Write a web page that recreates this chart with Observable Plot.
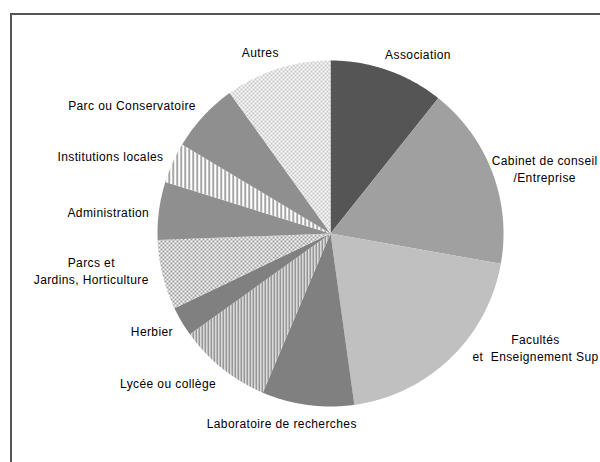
<!DOCTYPE html>
<html><head><meta charset="utf-8">
<script src="https://cdn.jsdelivr.net/npm/d3@7"></script>
<script src="https://cdn.jsdelivr.net/npm/@observablehq/plot@0.6"></script>
<style>
html,body{margin:0;padding:0;background:#fff;overflow:hidden;}
#chart{position:absolute;left:0;top:0;width:600px;height:462px;overflow:hidden;}
#chart text{white-space:pre;}
</style></head><body>
<div id="chart"></div>
<script>
// ---- data (% of respondents) ----
const categories = [
  "Association",
  "Cabinet de conseil\n/Entreprise",
  "Facultés\net  Enseignement Sup",
  "Laboratoire de recherches",
  "Lycée ou collège",
  "Herbier",
  "Parcs et\nJardins, Horticulture",
  "Administration",
  "Institutions locales",
  "Parc ou Conservatoire",
  "Autres"
];
const values = [10.7, 17.1, 20.0, 8.6, 8.7, 2.8, 6.5, 5.4, 3.8, 6.5, 9.9];

// ---- styles / layout (not data) ----
const fills = ["#555555", "#a0a0a0", "#c0c0c0", "#808080", "url(#p-lycee)", "#808080",
               "url(#p-parcs)", "#8f8f8f", "url(#p-inst)", "#8f8f8f", "url(#p-autres)"];
// manual label nudges in px (labels that were dragged in the original)
const labelNudge = [[0,0],[-10,5],[15,-30],[0,0],[0,0],[0,0],[-4,-11],[0,3],[0,0],[0,0],[0,0]];
const FONT = "'Liberation Sans', Arial, sans-serif";
const FS = 12, LH = 17, LS = 0.4;
const cx = 330, cy = 233, R = 173;

// ---- geometry derived from the values ----
const total = d3.sum(values);
let acc = 0;
const slices = values.map((v, i) => {
  const a0 = acc / total * 2 * Math.PI;
  acc += v;
  const a1 = acc / total * 2 * Math.PI;
  const n = Math.max(2, Math.ceil((a1 - a0) / (Math.PI / 360)));
  const pts = [{x: 0, y: 0}];
  for (let k = 0; k <= n; k++) {
    const a = a0 + (a1 - a0) * k / n;
    pts.push({x: Math.sin(a), y: Math.cos(a)});
  }
  pts.push({x: 0, y: 0});
  return {i, a0, a1, mid: (a0 + a1) / 2, pts};
});

const ctx = document.createElement("canvas").getContext("2d");
ctx.font = `${FS}px ${FONT}`;
const labels = slices.map(s => {
  const lines = categories[s.i].split("\n");
  const w = d3.max(lines, l => ctx.measureText(l).width + LS * l.length);
  const h = lines.length * LH - 5;
  const r = R + 10;
  const sx = Math.sin(s.mid), sy = Math.cos(s.mid);
  const fx = Math.max(-1, Math.min(1, sx * 2.5));
  const px = r * sx + (w / 2) * fx + labelNudge[s.i][0];
  const py = r * sy + (h / 2 + 2) * sy - labelNudge[s.i][1];
  return {x: px / R, y: py / R, text: categories[s.i]};
});

const marks = slices.map(s =>
  Plot.line(s.pts, {x: "x", y: "y", fill: fills[s.i], stroke: "none", curve: "linear"})
);
marks.push(Plot.text(labels, {
  x: "x", y: "y", text: "text", fontSize: FS, fill: "#000",
  textAnchor: "middle", lineAnchor: "middle", lineHeight: LH / FS
}));

const chart = Plot.plot({
  width: 600, height: 462,
  margin: 0,
  style: {fontFamily: FONT, fontSize: "12px", background: "#fff", letterSpacing: `${LS}px`},
  x: {domain: [-1, 1], range: [cx - R, cx + R], axis: null},
  y: {domain: [-1, 1], range: [cy + R, cy - R], axis: null},
  marks
});

// patterns + chart-area border (decoration)
const defs = `
<defs>
 <pattern id="p-inst" patternUnits="userSpaceOnUse" width="4" height="4">
  <rect width="4" height="4" fill="#fff"/><rect x="0" width="1" height="4" fill="#7a7a7a"/><rect x="1" width="1" height="4" fill="#d4d4d4"/>
 </pattern>
 <pattern id="p-lycee" patternUnits="userSpaceOnUse" width="3" height="3">
  <rect width="3" height="3" fill="#fff"/><rect x="0" width="1" height="3" fill="#777"/><rect x="1" width="1" height="3" fill="#b4b4b4"/>
 </pattern>
 <pattern id="p-parcs" patternUnits="userSpaceOnUse" width="4" height="4">
  <rect width="4" height="4" fill="#fff"/><rect x="0" y="0" width="2" height="2" fill="#9a9a9a"/><rect x="2" y="2" width="2" height="2" fill="#9a9a9a"/>
 </pattern>
 <pattern id="p-autres" patternUnits="userSpaceOnUse" width="4" height="4">
  <rect width="4" height="4" fill="#fff"/><rect x="0" y="0" width="2" height="2" fill="#c6c6c6"/><rect x="2" y="2" width="2" height="2" fill="#c6c6c6"/>
 </pattern>
</defs>
<path d="M11,470V14H610" fill="none" stroke="#555" stroke-width="2"/>`;
chart.insertAdjacentHTML("afterbegin", defs);
document.getElementById("chart").appendChild(chart);
</script>
</body></html>
